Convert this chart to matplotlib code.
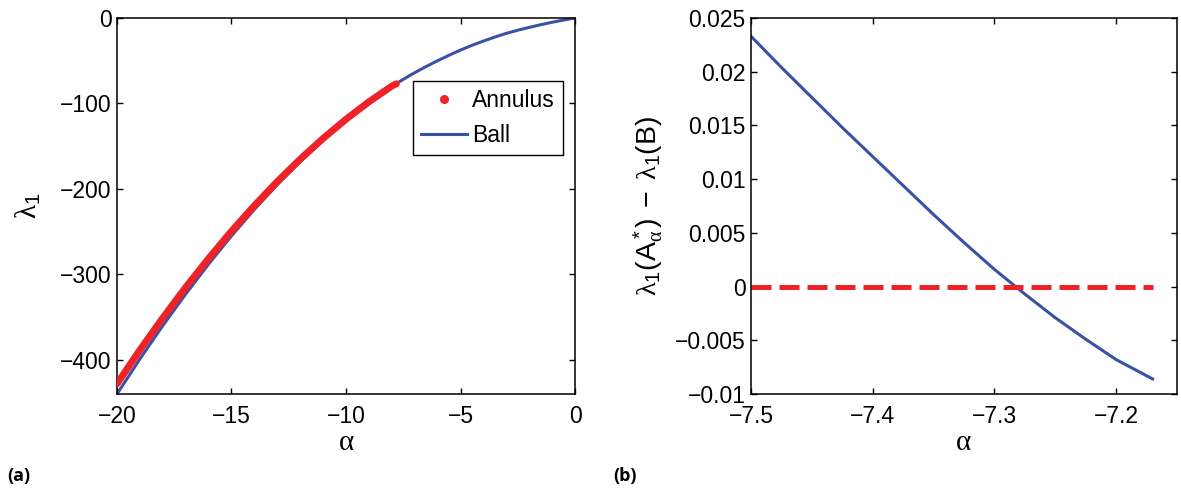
import matplotlib
matplotlib.use("Agg")
import matplotlib.pyplot as plt
from matplotlib.lines import Line2D

plt.rcParams['font.family'] = ['Liberation Sans', 'DejaVu Sans']
plt.rcParams['mathtext.fontset'] = 'custom'
plt.rcParams['mathtext.rm'] = 'Liberation Sans'
plt.rcParams['mathtext.it'] = 'Liberation Serif'
plt.rcParams['mathtext.bf'] = 'Liberation Sans:bold'

BLUE = '#3953a4'
RED = '#ee2227'

# panel (a): first eigenvalue vs alpha
alpha_ball = [-20, -19, -18, -17, -16, -15, -14, -13, -12, -11, -10, -9,
              -8, -7.5, -7, -6.5, -6, -5.5, -5, -4.5, -4, -3.5, -3, -2.5,
              -2, -1.5, -1, -0.5, 0]
lam_ball = [-440, -399, -360, -323, -288, -255, -224, -195, -168, -143,
            -120, -99, -80, -71.8, -64, -56.8, -50, -43.6, -37.5, -32,
            -27, -22.3, -18, -14.3, -11, -7.9, -5, -2.4, 0]

alpha_ann = [-20, -19, -18, -17, -16, -15, -14, -13, -12, -11, -10,
             -9, -8, -7.8]
lam_ann = [-428, -388.5, -351, -315.2, -281.4, -249.5, -219.5, -191.4,
           -165.2, -140.9, -118.5, -98.1, -79.7, -77]

# panel (b): difference lambda_1(A*) - lambda_1(B)
alpha_diff = [-7.5, -7.475, -7.45, -7.425, -7.4, -7.375, -7.35, -7.325,
              -7.3, -7.275, -7.25, -7.225, -7.2, -7.17]
lam_diff = [0.0233, 0.0204, 0.0176, 0.0148, 0.0121, 0.0094, 0.0067, 0.0041,
            0.0016, -0.0007, -0.0029, -0.0049, -0.0068, -0.0086]

fig = plt.figure(figsize=(11.81, 4.88), dpi=100)
ax1 = fig.add_axes([117 / 1181, 1 - 394 / 488, 458 / 1181, 376 / 488])
ax2 = fig.add_axes([751 / 1181, 1 - 394 / 488, 426 / 1181, 376 / 488])

ax1.plot(alpha_ball, lam_ball, color=BLUE, lw=2.2, zorder=2)
ax1.plot(alpha_ann, lam_ann, color=RED, lw=5, solid_capstyle='round', zorder=3)
ax1.set_xlim(-20, 0)
ax1.set_ylim(-440, 0)
ax1.set_xticks([-20, -15, -10, -5, 0])
ax1.set_yticks([-400, -300, -200, -100, 0])
ax1.set_xlabel('\u03b1', fontsize=21, family='Liberation Serif', labelpad=1)
ax1.set_ylabel(r'$\lambda_1$', fontsize=21, labelpad=12)
handles = [Line2D([], [], marker='o', ls='none', color=RED, markersize=5.5),
           Line2D([], [], color=BLUE, lw=2.2)]
leg = ax1.legend(handles, ['Annulus', 'Ball'], loc='upper right',
                 bbox_to_anchor=(0.974, 0.832), borderaxespad=0,
                 fontsize=16.5, fancybox=False, framealpha=1,
                 edgecolor='black', handlelength=2.0, borderpad=0.35,
                 labelspacing=0.5, handletextpad=0.25)
leg.get_frame().set_linewidth(1.0)

ax2.plot(alpha_diff, lam_diff, color=BLUE, lw=2.2)
ax2.plot([alpha_diff[0], alpha_diff[-1]], [0, 0], color=RED, lw=3.6,
         dashes=(4, 1.6))
ax2.set_xlim(-7.5, -7.15)
ax2.set_ylim(-0.01, 0.025)
ax2.set_xticks([-7.5, -7.4, -7.3, -7.2])
ax2.set_yticks([-0.01, -0.005, 0, 0.005, 0.01, 0.015, 0.02, 0.025])
ax2.set_yticklabels(['\u22120.01', '\u22120.005', '0', '0.005', '0.01',
                     '0.015', '0.02', '0.025'])
ax2.set_xlabel('\u03b1', fontsize=21, family='Liberation Serif', labelpad=1)
ax2.set_ylabel(r'$\lambda_1(\mathrm{A}^*_\alpha)\; -\; \lambda_1(\mathrm{B})$',
               fontsize=20.5, labelpad=6)

for ax in (ax1, ax2):
    ax.tick_params(direction='in', length=4, width=1, labelsize=16.5,
                   top=True, right=True)
    ax.tick_params(axis='x', pad=8)
    ax.tick_params(axis='y', pad=4)
    for s in ax.spines.values():
        s.set_linewidth(1.1)

fig.text(0.006, 0.024, '(a)', fontsize=13, fontweight='bold',
         family='Open Sans', va='center')
fig.text(0.519, 0.024, '(b)', fontsize=13, fontweight='bold',
         family='Open Sans', va='center')

fig.savefig('out.png', dpi=100)
